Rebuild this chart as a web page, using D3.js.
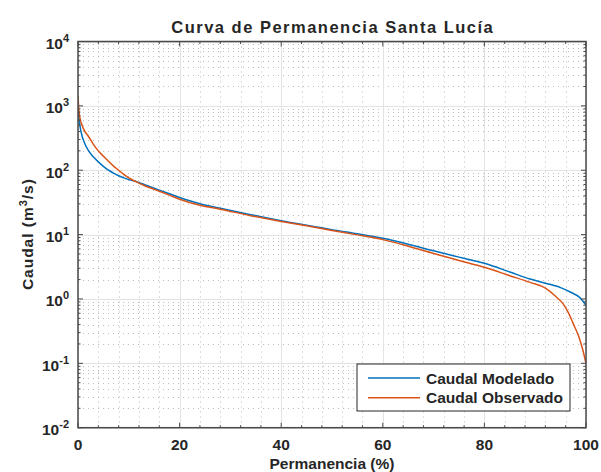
<!DOCTYPE html>
<html><head><meta charset="utf-8">
<script src="https://cdn.jsdelivr.net/npm/d3@7"></script>
<style>
body{margin:0;background:#fff}
text{font-family:"Liberation Sans",Arial,Helvetica,sans-serif;font-weight:bold;fill:#262626}
</style>
</head><body><svg id="c" width="601" height="472"></svg>
<script>
const chartTitle = "Curva de Permanencia Santa Lucía";
const xLabelText = "Permanencia (%)";
const seriesNames = ["Caudal Modelado", "Caudal Observado"];
const seriesColors = ["#0072BD", "#D95319"];
const xTicks = [0, 20, 40, 60, 80, 100];
const yTickExps = [-2, -1, 0, 1, 2, 3, 4];

const modPct = [0, 0.15, 0.4, 0.8, 1.2, 2, 3, 4, 5, 6, 7, 8, 9, 10, 11.5, 13, 15, 18, 20, 24, 28, 34, 40, 45, 50, 55, 60, 65, 70, 75, 80, 85, 89, 92, 95, 97, 98.8, 100];
const modQ   = [1000, 700, 480, 340, 275, 205, 162, 135, 115, 100, 90, 82, 76, 71.5, 66.5, 60, 52.5, 43, 37.8, 30.2, 25.7, 20.4, 16.4, 14.0, 11.9, 10.3, 8.75, 7.1, 5.6, 4.47, 3.58, 2.63, 2.04, 1.76, 1.5, 1.27, 1.05, 0.8];

const obsPct = [0, 0.15, 0.4, 0.8, 1.2, 2, 3, 4, 5, 6, 7, 8, 9, 10, 11.5, 13, 15, 18, 20, 24, 28, 34, 40, 45, 50, 55, 60, 65, 70, 75, 80, 85, 89, 92, 94, 95.5, 96.5, 97.5, 98.5, 99.3, 100];
const obsQ   = [1450, 900, 640, 500, 420, 340, 255, 200, 165, 138, 116, 100, 86, 76, 66, 58, 50.5, 41, 35.5, 28.6, 24.8, 19.7, 16.0, 13.7, 11.6, 9.9, 8.35, 6.6, 5.09, 3.97, 3.10, 2.30, 1.81, 1.47, 1.1, 0.84, 0.62, 0.41, 0.27, 0.17, 0.099];

const L = 78, R = 586, T = 41.5, B = 427.7;
const svg = d3.select("#c");
const x = d3.scaleLinear().domain([0, 100]).range([L, R]);
const y = d3.scaleLog().domain([0.01, 10000]).range([B, T]);

svg.append("rect").attr("x", L).attr("y", T).attr("width", R - L).attr("height", B - T).attr("fill", "#fff");

// minor grid
const xMinor = d3.range(0, 101, 4).filter(v => v % 20 !== 0);
const yAll = y.ticks();
const yMinor = yAll.filter(v => Math.abs(Math.log10(v) - Math.round(Math.log10(v))) > 1e-6);
const yMajor = yTickExps.map(e => Math.pow(10, e));
const g = svg.append("g");
g.selectAll(".vmin").data(xMinor).enter().append("line")
  .attr("x1", d => Math.round(x(d)) + 0.5).attr("x2", d => Math.round(x(d)) + 0.5)
  .attr("y1", T).attr("y2", B)
  .attr("stroke", "#bdbdbd").attr("stroke-width", 1).attr("stroke-dasharray", "1,4");
g.selectAll(".hmin").data(yMinor).enter().append("line")
  .attr("y1", d => Math.round(y(d)) + 0.5).attr("y2", d => Math.round(y(d)) + 0.5)
  .attr("x1", L).attr("x2", R)
  .attr("stroke", "#bdbdbd").attr("stroke-width", 1).attr("stroke-dasharray", "1,4");
// major grid
g.selectAll(".vmaj").data(xTicks).enter().append("line")
  .attr("x1", d => Math.round(x(d)) + 0.5).attr("x2", d => Math.round(x(d)) + 0.5)
  .attr("y1", T).attr("y2", B).attr("stroke", "#e3e3e3").attr("stroke-width", 1);
g.selectAll(".hmaj").data(yMajor).enter().append("line")
  .attr("y1", d => Math.round(y(d)) + 0.5).attr("y2", d => Math.round(y(d)) + 0.5)
  .attr("x1", L).attr("x2", R).attr("stroke", "#e3e3e3").attr("stroke-width", 1);

// curves
svg.append("clipPath").attr("id", "clip").append("rect")
  .attr("x", L).attr("y", T).attr("width", R - L).attr("height", B - T);
const line = d3.line().x(d => x(d[0])).y(d => y(d[1])).curve(d3.curveMonotoneX);
const series = [modPct.map((p, i) => [p, modQ[i]]), obsPct.map((p, i) => [p, obsQ[i]])];
series.forEach((s, i) => {
  svg.append("path").attr("d", line(s)).attr("fill", "none")
    .attr("stroke", seriesColors[i]).attr("stroke-width", 1.5)
    .attr("clip-path", "url(#clip)");
});

// axes box and ticks
const ax = svg.append("g").attr("stroke", "#4a4a4a").attr("fill", "none");
ax.append("rect").attr("x", L).attr("y", T).attr("width", R - L).attr("height", B - T).attr("stroke-width", 1.5);
xTicks.forEach(v => {
  ax.append("line").attr("x1", x(v)).attr("x2", x(v)).attr("y1", B).attr("y2", B - 5);
  ax.append("line").attr("x1", x(v)).attr("x2", x(v)).attr("y1", T).attr("y2", T + 5);
});
xMinor.forEach(v => {
  ax.append("line").attr("x1", x(v)).attr("x2", x(v)).attr("y1", B).attr("y2", B - 2.5);
  ax.append("line").attr("x1", x(v)).attr("x2", x(v)).attr("y1", T).attr("y2", T + 2.5);
});
yMajor.forEach(v => {
  ax.append("line").attr("y1", y(v)).attr("y2", y(v)).attr("x1", L).attr("x2", L + 5);
  ax.append("line").attr("y1", y(v)).attr("y2", y(v)).attr("x1", R).attr("x2", R - 5);
});
yMinor.forEach(v => {
  ax.append("line").attr("y1", y(v)).attr("y2", y(v)).attr("x1", L).attr("x2", L + 2.5);
  ax.append("line").attr("y1", y(v)).attr("y2", y(v)).attr("x1", R).attr("x2", R - 2.5);
});

// x tick labels
svg.selectAll(".xl").data(xTicks).enter().append("text")
  .attr("x", d => x(d)).attr("y", 450).attr("text-anchor", "middle")
  .attr("font-size", 15.5).text(d => d);

// y tick labels
yTickExps.forEach(e => {
  const t = svg.append("text").attr("x", 69).attr("y", y(Math.pow(10, e)) + 7.5)
    .attr("text-anchor", "end").attr("font-size", 15.5);
  t.append("tspan").text("10");
  t.append("tspan").attr("dy", -7).attr("font-size", 11).text(e);
});

// axis labels
const yl = svg.append("text").attr("transform", `translate(33,${(T + B) / 2}) rotate(-90)`)
  .attr("text-anchor", "middle").attr("font-size", 15.5);
yl.append("tspan").text("Caudal (m");
yl.append("tspan").attr("dy", -6).attr("font-size", 11).text("3");
yl.append("tspan").attr("dy", 6).text("/s)");

svg.append("text").attr("x", (L + R) / 2).attr("y", 469).attr("text-anchor", "middle")
  .attr("font-size", 15.5).text(xLabelText);

const tt = svg.append("text").attr("x", (L + R) / 2).attr("y", 33).attr("text-anchor", "middle")
  .attr("font-size", 16.5).text(chartTitle);
function fit(sel, target) {
  const w = sel.node().getComputedTextLength();
  const n = sel.text().length;
  const ls = (target - w) / n;
  sel.attr("letter-spacing", ls);
  sel.attr("dx", ls / 2);
}
fit(tt, 323);
fit(yl, 112);

// legend
const lg = svg.append("g");
lg.append("rect").attr("x", 357).attr("y", 364).attr("width", 213).attr("height", 47)
  .attr("fill", "#fff").attr("stroke", "#262626").attr("stroke-width", 1);
seriesNames.forEach((n, i) => {
  const yy = 378 + i * 19.7;
  lg.append("line").attr("x1", 368).attr("x2", 420).attr("y1", yy).attr("y2", yy)
    .attr("stroke", seriesColors[i]).attr("stroke-width", 1.5);
  lg.append("text").attr("x", 426).attr("y", yy + 5.5).attr("font-size", 15.5).text(n);
});
</script>
</body></html>
